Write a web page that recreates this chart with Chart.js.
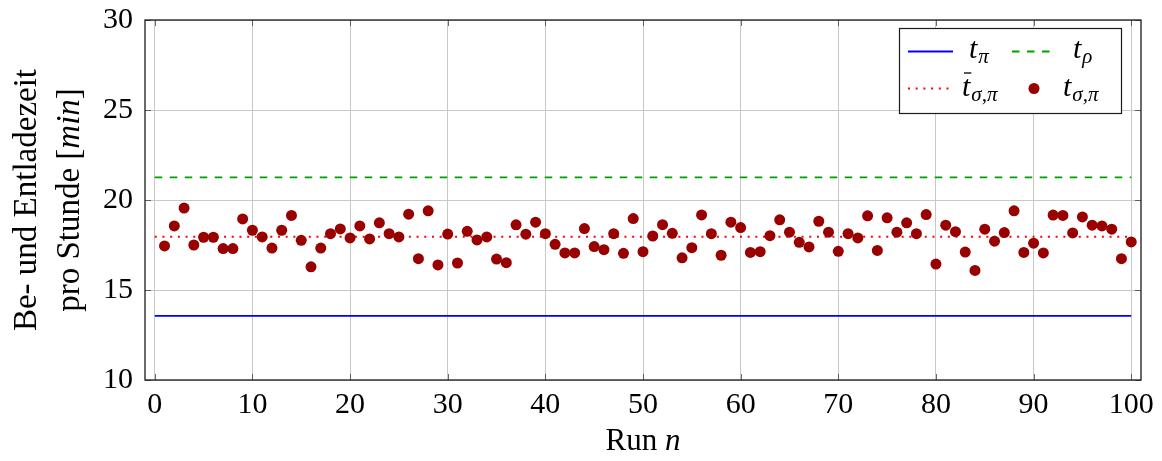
<!DOCTYPE html>
<html>
<head>
<meta charset="utf-8">
<script src="https://cdn.jsdelivr.net/npm/chart.js@4/dist/chart.umd.min.js"></script>
<style>
  html, body { margin: 0; padding: 0; background: #ffffff; }
  #wrap { width: 1162px; height: 461px; }
</style>
</head>
<body>
<div id="wrap"><canvas id="c" width="1162" height="461"></canvas></div>
<script>
// Run numbers 1..100
const runs = [
  1, 2, 3, 4, 5, 6, 7, 8, 9, 10,
  11, 12, 13, 14, 15, 16, 17, 18, 19, 20,
  21, 22, 23, 24, 25, 26, 27, 28, 29, 30,
  31, 32, 33, 34, 35, 36, 37, 38, 39, 40,
  41, 42, 43, 44, 45, 46, 47, 48, 49, 50,
  51, 52, 53, 54, 55, 56, 57, 58, 59, 60,
  61, 62, 63, 64, 65, 66, 67, 68, 69, 70,
  71, 72, 73, 74, 75, 76, 77, 78, 79, 80,
  81, 82, 83, 84, 85, 86, 87, 88, 89, 90,
  91, 92, 93, 94, 95, 96, 97, 98, 99, 100
];

// Loading/unloading time per hour for each run [min]
const tSigmaPi = [
  17.45, 18.56, 19.55, 17.50, 17.93, 17.93, 17.30, 17.30, 18.95, 18.32,
  17.95, 17.33, 18.32, 19.14, 17.76, 16.29, 17.33, 18.13, 18.39, 17.89,
  18.56, 17.84, 18.73, 18.13, 17.95, 19.21, 16.74, 19.40, 16.39, 18.11,
  16.50, 18.26, 17.78, 17.95, 16.72, 16.52, 18.62, 18.10, 18.77, 18.13,
  17.54, 17.06, 17.06, 18.41, 17.41, 17.24, 18.13, 17.04, 18.97, 17.13,
  18.00, 18.63, 18.15, 16.79, 17.35, 19.17, 18.13, 16.93, 18.77, 18.47,
  17.09, 17.13, 18.02, 18.90, 18.21, 17.65, 17.39, 18.82, 18.21, 17.15,
  18.13, 17.89, 19.12, 17.20, 19.01, 18.21, 18.73, 18.13, 19.19, 16.44,
  18.60, 18.24, 17.11, 16.09, 18.38, 17.71, 18.19, 19.40, 17.09, 17.60,
  17.06, 19.16, 19.14, 18.17, 19.06, 18.60, 18.56, 18.38, 16.74, 17.67
];

// Reference levels [min]
const tPi = 13.56;
const tRho = 21.26;
const tSigmaPiMean = 17.96;

// Horizontal extent of the reference lines
const lineRange = [0, 100];

// Axis ticks
const xTicks = [0, 10, 20, 30, 40, 50, 60, 70, 80, 90, 100];
const yTicks = [10, 15, 20, 25, 30];

const SERIF = "'Liberation Serif', 'DejaVu Serif', serif";

function hline(level) {
  return lineRange.map(x => ({ x: x, y: level }));
}

// Draws a run of text pieces (with optional font and vertical shift) left to right
function drawPieces(ctx, x, baseline, pieces) {
  let cx = x;
  for (const p of pieces) {
    ctx.font = p.font;
    ctx.fillText(p.text, cx, baseline + (p.dy || 0));
    const w = ctx.measureText(p.text).width;
    if (p.bar) {
      ctx.save();
      ctx.lineWidth = 1.3;
      ctx.beginPath();
      ctx.moveTo(cx + 2, baseline - 23);
      ctx.lineTo(cx + w + 1, baseline - 23);
      ctx.stroke();
      ctx.restore();
    }
    cx += w + (p.after || 0);
  }
  return cx;
}

function piecesWidth(ctx, pieces) {
  let w = 0;
  for (const p of pieces) { ctx.font = p.font; w += ctx.measureText(p.text).width + (p.after || 0); }
  return w;
}

const tMain = "italic 30px " + SERIF;
const tSub = "italic 21px " + SERIF;

// Axis box, inner tick marks, axis titles and the legend
const decor = {
  id: 'decor',
  afterDatasetsDraw(chart) {
    const { ctx, chartArea: a, scales } = chart;
    ctx.save();

    // inner tick marks on all four sides
    ctx.strokeStyle = 'rgba(60,60,60,0.75)';
    ctx.lineWidth = 1;
    const tl = 6;
    for (const v of xTicks) {
      const px = Math.round(scales.x.getPixelForValue(v)) + 0.5;
      ctx.beginPath();
      ctx.moveTo(px, a.bottom); ctx.lineTo(px, a.bottom - tl);
      ctx.moveTo(px, a.top); ctx.lineTo(px, a.top + tl);
      ctx.stroke();
    }
    for (const v of yTicks) {
      const py = Math.round(scales.y.getPixelForValue(v)) + 0.5;
      ctx.beginPath();
      ctx.moveTo(a.left, py); ctx.lineTo(a.left + tl, py);
      ctx.moveTo(a.right, py); ctx.lineTo(a.right - tl, py);
      ctx.stroke();
    }

    // axis box
    ctx.strokeStyle = '#1a1a1a';
    ctx.lineWidth = 1.3;
    ctx.strokeRect(a.left, a.top, a.right - a.left, a.bottom - a.top);

    ctx.fillStyle = '#000';
    ctx.textBaseline = 'alphabetic';
    ctx.textAlign = 'left';

    // x-axis title: "Run n"
    const xt = [
      { text: 'Run ', font: "31px " + SERIF },
      { text: 'n', font: "italic 31px " + SERIF }
    ];
    const xw = piecesWidth(ctx, xt);
    drawPieces(ctx, (a.left + a.right) / 2 - xw / 2, 450, xt);

    // y-axis title, two rotated lines
    const cy = (a.top + a.bottom) / 2;
    ctx.save();
    ctx.translate(0, cy);
    ctx.rotate(-Math.PI / 2);
    const l1 = [{ text: 'Be- und Entladezeit', font: "33px " + SERIF }];
    const l2 = [
      { text: 'pro Stunde [', font: "33px " + SERIF },
      { text: 'min', font: "italic 33px " + SERIF },
      { text: ']', font: "33px " + SERIF }
    ];
    drawPieces(ctx, -piecesWidth(ctx, l1) / 2, 36, l1);
    drawPieces(ctx, -piecesWidth(ctx, l2) / 2, 79, l2);
    ctx.restore();

    // legend
    const lx = 899, ly = 28, lw = 222, lh = 85;
    ctx.fillStyle = '#fff';
    ctx.fillRect(lx, ly, lw, lh);
    ctx.strokeStyle = '#1a1a1a';
    ctx.lineWidth = 1.2;
    ctx.strokeRect(lx + 0.5, ly + 0.5, lw, lh);

    const ds = chart.data.datasets;
    const r1 = 51.5, r2 = 88.5;
    const sample = (d, x0, x1, y) => {
      ctx.save();
      ctx.strokeStyle = d.borderColor;
      ctx.lineWidth = d.borderWidth;
      ctx.setLineDash(d.borderDash || []);
      ctx.beginPath();
      ctx.moveTo(x0, y); ctx.lineTo(x1, y);
      ctx.stroke();
      ctx.restore();
    };
    sample(ds[1], 908, 953, r1);
    sample(ds[2], 1012, 1054, r1);
    sample(ds[3], 908, 954, r2);
    ctx.fillStyle = ds[0].backgroundColor;
    ctx.beginPath();
    ctx.arc(1034, r2, 5.5, 0, Math.PI * 2);
    ctx.fill();

    ctx.fillStyle = '#000';
    ctx.strokeStyle = '#000';
    drawPieces(ctx, 969, 58, [
      { text: 't', font: tMain, after: 1 },
      { text: 'π', font: tSub, dy: 5 }
    ]);
    drawPieces(ctx, 1073, 58, [
      { text: 't', font: tMain, after: 1 },
      { text: 'ρ', font: tSub, dy: 5 }
    ]);
    drawPieces(ctx, 962, 96, [
      { text: 't', font: tMain, bar: true, after: 1 },
      { text: 'σ,π', font: tSub, dy: 5 }
    ]);
    drawPieces(ctx, 1063, 96, [
      { text: 't', font: tMain, after: 1 },
      { text: 'σ,π', font: tSub, dy: 5 }
    ]);

    ctx.restore();
  }
};

new Chart(document.getElementById('c'), {
  type: 'scatter',
  data: {
    datasets: [
      {
        label: 'tσ,π',
        data: runs.map((n, i) => ({ x: n, y: tSigmaPi[i] })),
        backgroundColor: '#990000',
        borderColor: '#990000',
        borderWidth: 0,
        pointRadius: 5.5,
        pointHoverRadius: 5.5,
        order: 0
      },
      {
        label: 'tπ',
        data: hline(tPi),
        showLine: true,
        borderColor: '#0000ff',
        borderWidth: 1.8,
        pointRadius: 0,
        order: 1
      },
      {
        label: 'tρ',
        data: hline(tRho),
        showLine: true,
        borderColor: '#00a000',
        borderWidth: 1.8,
        borderDash: [7.5, 7.5],
        pointRadius: 0,
        order: 1
      },
      {
        label: 't̄σ,π',
        data: hline(tSigmaPiMean),
        showLine: true,
        borderColor: '#ff0000',
        borderWidth: 2,
        borderDash: [2, 5.7],
        pointRadius: 0,
        order: 1
      }
    ]
  },
  options: {
    responsive: false,
    devicePixelRatio: 1,
    animation: false,
    layout: { padding: { left: 0, top: 20, right: 21, bottom: 0 } },
    plugins: {
      legend: { display: false },
      tooltip: { enabled: false },
      title: { display: false }
    },
    scales: {
      x: {
        type: 'linear',
        min: -1,
        max: 101,
        afterBuildTicks(scale) { scale.ticks = xTicks.map(v => ({ value: v })); },
        afterFit(scale) { scale.height = 81; scale.paddingLeft = 0; scale.paddingRight = 0; },
        grid: { color: '#c8c8c8', lineWidth: 1, drawTicks: false },
        border: { display: false },
        ticks: {
          color: '#000',
          font: { family: SERIF, size: 30 },
          padding: 7,
          maxRotation: 0,
          autoSkip: false
        }
      },
      y: {
        type: 'linear',
        min: 10,
        max: 30,
        afterBuildTicks(scale) { scale.ticks = yTicks.map(v => ({ value: v })); },
        afterFit(scale) { scale.width = 145; scale.paddingTop = 0; scale.paddingBottom = 0; },
        grid: { color: '#c8c8c8', lineWidth: 1, drawTicks: false },
        border: { display: false },
        ticks: {
          color: '#000',
          font: { family: SERIF, size: 30 },
          padding: 12
        }
      }
    }
  },
  plugins: [decor]
});
</script>
</body>
</html>
